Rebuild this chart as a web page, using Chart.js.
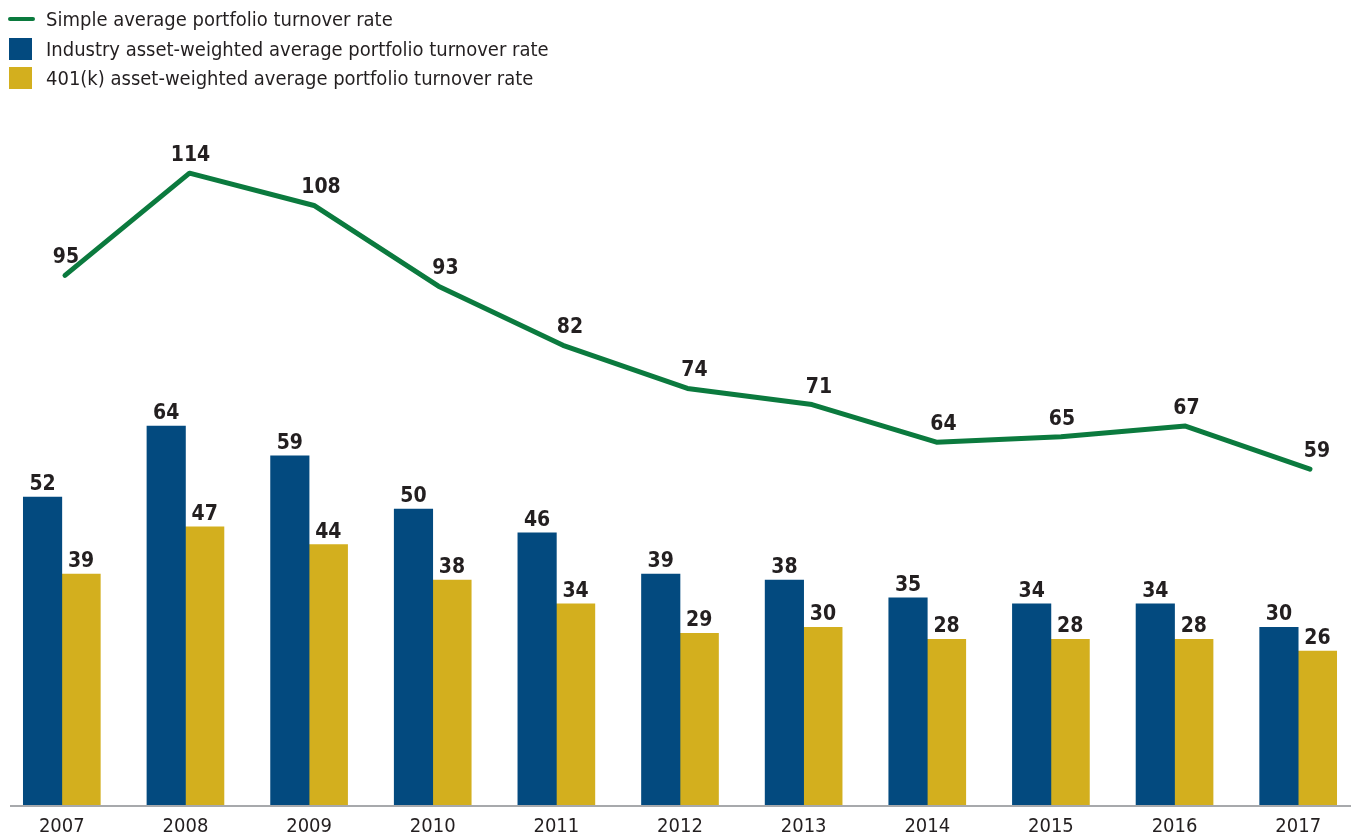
<!DOCTYPE html>
<html>
<head>
<meta charset="utf-8">
<script src="https://cdn.jsdelivr.net/npm/chart.js@4.4.0/dist/chart.umd.min.js"></script>
<style>
html, body { margin: 0; padding: 0; background: #fff; overflow: hidden; }
#wrap { position: relative; width: 1351px; height: 837px; overflow: hidden; }
#chart { position: absolute; left: 0; top: 0; display: block; }
#legend { position: absolute; left: 0; top: 0; font-size: 20px; color: #231f20; }
.item { position: absolute; left: 46px; white-space: nowrap; line-height: 24px; }
.key { position: absolute; }
</style>
</head>
<body>
<div id="wrap">
  <canvas id="chart" width="1360" height="837"></canvas>
  <div id="legend"></div>
</div>
<script>
var FONT = '"DejaVu Sans Condensed", "Liberation Sans Narrow", Roboto, sans-serif';

var years = ['2007', '2008', '2009', '2010', '2011', '2012', '2013', '2014', '2015', '2016', '2017'];
var simpleAvg = [95, 114, 108, 93, 82, 74, 71, 64, 65, 67, 59];
var industryAvg = [52, 64, 59, 50, 46, 39, 38, 35, 34, 34, 30];
var k401Avg = [39, 47, 44, 38, 34, 29, 30, 28, 28, 28, 26];

var GREEN = '#0b7a3e';
var BLUE = '#034a7f';
var GOLD = '#d3af1e';

document.getElementById('legend').style.fontFamily = FONT;

// labels above each bar and line point
var valueLabels = {
    id: 'valueLabels',
    afterDatasetsDraw: function(chart) {
        var ctx = chart.ctx;
        ctx.save();
        ctx.font = 'bold 21px ' + FONT;
        ctx.fillStyle = '#231f20';
        ctx.textAlign = 'center';
        ctx.textBaseline = 'alphabetic';
        chart.data.datasets.forEach(function(ds, di) {
            var meta = chart.getDatasetMeta(di);
            meta.data.forEach(function(el, i) {
                if (ds.type === 'line') {
                    var v = ds.data[i].y;
                    var prev = i > 0 ? ds.data[i - 1].y : null;
                    var dx = (prev !== null && prev > v) ? 7 : 1;
                    ctx.fillText(String(v), el.x + dx, el.y - 12);
                } else {
                    ctx.fillText(String(ds.data[i]), el.x, el.y - 7);
                }
            });
        });
        ctx.restore();
    }
};

// axis line drawn a bit in from the edges, like the original
var baseLine = {
    id: 'baseLine',
    beforeDatasetsDraw: function(chart) {
        var ctx = chart.ctx;
        var y = chart.scales.y.getPixelForValue(0) + 1;
        ctx.save();
        ctx.strokeStyle = '#a7a9ac';
        ctx.lineWidth = 2;
        ctx.beginPath();
        ctx.moveTo(10, y);
        ctx.lineTo(1351, y);
        ctx.stroke();
        ctx.restore();
    }
};

var ctx = document.getElementById('chart').getContext('2d');
var chart = new Chart(ctx, {
    data: {
        labels: years,
        datasets: [{
            type: 'line',
            label: 'Simple average portfolio turnover rate',
            data: simpleAvg.map(function(v, i) { return { x: i, y: v }; }),
            xAxisID: 'x2',
            yAxisID: 'y2',
            borderColor: GREEN,
            backgroundColor: GREEN,
            borderWidth: 5,
            borderCapStyle: 'round',
            borderJoinStyle: 'round',
            pointRadius: 0,
            tension: 0,
            order: 0
        }, {
            type: 'bar',
            label: 'Industry asset-weighted average portfolio turnover rate',
            data: industryAvg,
            backgroundColor: BLUE,
            barThickness: 38.5,
            order: 1
        }, {
            type: 'bar',
            label: '401(k) asset-weighted average portfolio turnover rate',
            data: k401Avg,
            backgroundColor: GOLD,
            barThickness: 38.5,
            order: 2
        }]
    },
    options: {
        responsive: false,
        animation: false,
        layout: { padding: { top: 100, left: 0, right: 0, bottom: 0 } },
        plugins: {
            legend: { display: false },
            tooltip: { enabled: false }
        },
        scales: {
            x: {
                type: 'category',
                offset: true,
                grid: { display: false, drawTicks: false },
                border: { display: false },
                ticks: { color: '#231f20', font: { family: FONT, size: 20 }, padding: 10 },
                afterFit: function(s) { s.height = 32; }
            },
            x2: {
                type: 'linear',
                display: false,
                min: -0.522,
                max: 10.402
            },
            y: {
                display: false,
                min: 0,
                max: 119.1
            },
            y2: {
                display: false,
                min: -3.42,
                max: 127.6
            }
        }
    },
    plugins: [baseLine, valueLabels]
});

// legend, stacked like the original
var legend = document.getElementById('legend');
chart.data.datasets.forEach(function(ds, i) {
    var cy = 19 + i * 29.5;
    var key = document.createElement('div');
    key.className = 'key';
    if (ds.type === 'line') {
        key.style.cssText = 'left:8px;top:' + (cy - 1.75) + 'px;width:27px;height:3.5px;border-radius:2px;background:' + ds.borderColor;
    } else {
        key.style.cssText = 'left:9px;top:' + (cy - 11) + 'px;width:23px;height:22px;background:' + ds.backgroundColor;
    }
    legend.appendChild(key);
    var item = document.createElement('div');
    item.className = 'item';
    item.style.top = (cy - 12) + 'px';
    item.textContent = ds.label;
    legend.appendChild(item);
});
</script>
</body>
</html>
